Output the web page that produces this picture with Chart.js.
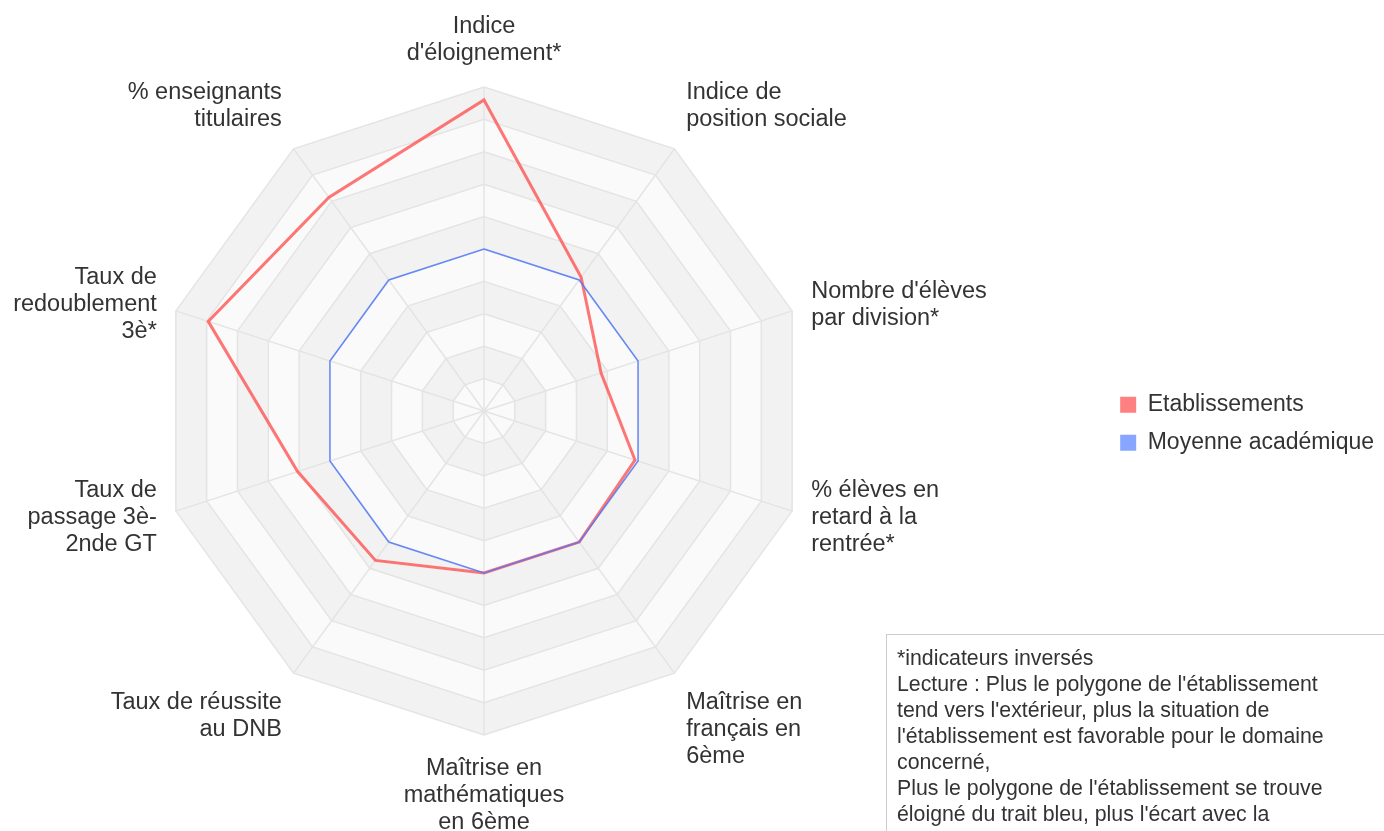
<!DOCTYPE html>
<html lang="fr">
<head>
<meta charset="utf-8">
<title>Radar établissement</title>
<script src="https://cdn.jsdelivr.net/npm/chart.js@4.4.1/dist/chart.umd.min.js"></script>
<style>
  html, body { margin: 0; padding: 0; background: #fff; overflow: hidden; }
  #wrap { position: relative; width: 1384px; height: 831px; overflow: hidden; }
  /* le canevas déborde à gauche pour décaler le radar vers la gauche */
  #chart { position: absolute; left: -136px; top: 0; }
  #note {
    position: absolute; left: 886px; top: 634px; width: 600px; height: 260px;
    border: 1px solid #cccccc; box-sizing: border-box;
    padding: 10px 0 0 10px;
    font: 21.3px "Liberation Sans", Arial, sans-serif; line-height: 26px; color: #333;
    white-space: nowrap;
  }
</style>
</head>
<body>
<div id="wrap">
  <canvas id="chart" width="1520" height="831"></canvas>
  <div id="note">*indicateurs inversés<br>Lecture : Plus le polygone de l'établissement<br>tend vers l'extérieur, plus la situation de<br>l'établissement est favorable pour le domaine<br>concerné,<br>Plus le polygone de l'établissement se trouve<br>éloigné du trait bleu, plus l'écart avec la<br>moyenne académique est important.</div>
</div>
<script>
const indicateurs = [
  ['Indice', "d'éloignement*"],
  ['Indice de', 'position sociale'],
  ["Nombre d'élèves", 'par division*'],
  ['% élèves en', 'retard à la', 'rentrée*'],
  ['Maîtrise en', 'français en', '6ème'],
  ['Maîtrise en', 'mathématiques', 'en 6ème'],
  ['Taux de réussite', 'au DNB'],
  ['Taux de', 'passage 3è-', '2nde GT'],
  ['Taux de', 'redoublement', '3è*'],
  ['% enseignants', 'titulaires']
];
const etablissement = [9.6, 5.1, 3.8, 4.9, 5.0, 5.0, 5.7, 6.05, 8.95, 8.15];
const moyenneAcad = [5, 5, 5, 5, 5, 5, 5, 5, 5, 5];
const echelleMax = 10;

const bandeClaire = '#fafafa';
const bandeFoncee = '#f2f2f2';
const gris = '#e4e4e4';
const fontFamily = '"Liberation Sans", Arial, sans-serif';

// bandes grises alternées sous la grille
const bandesPlugin = {
  id: 'bandes',
  beforeDraw(chart) {
    const s = chart.scales.r;
    const ctx = chart.ctx;
    const n = chart.data.labels.length;
    ctx.save();
    for (let v = echelleMax; v >= 1; v--) {
      ctx.beginPath();
      for (let i = 0; i < n; i++) {
        const p = s.getPointPositionForValue(i, v);
        if (i === 0) ctx.moveTo(p.x, p.y); else ctx.lineTo(p.x, p.y);
      }
      ctx.closePath();
      ctx.fillStyle = v % 2 === 0 ? bandeFoncee : bandeClaire;
      ctx.fill();
    }
    ctx.restore();
  }
};

// libellés des axes, placés à partir de l'échelle
const libellesPlugin = {
  id: 'libelles',
  afterDraw(chart) {
    const s = chart.scales.r;
    const ctx = chart.ctx;
    const n = chart.data.labels.length;
    const lh = 27;
    ctx.save();
    ctx.font = '23.5px ' + fontFamily;
    ctx.fillStyle = '#333';
    ctx.textBaseline = 'middle';
    chart.data.labels.forEach((lines, i) => {
      const p = s.getPointPosition(i, s.drawingArea + 20);
      const deg = Math.round(i * 360 / n);
      ctx.textAlign = (deg === 0 || deg === 180) ? 'center' : (deg < 180 ? 'left' : 'right');
      const h = lines.length * lh;
      let top;
      if (deg <= 45 || deg >= 315) top = p.y - h;
      else if (deg >= 135 && deg <= 225) top = p.y;
      else top = p.y - h / 2;
      lines.forEach((t, k) => ctx.fillText(t, p.x, top + lh / 2 + k * lh));
    });
    ctx.restore();
  }
};

new Chart(document.getElementById('chart'), {
  type: 'radar',
  data: {
    labels: indicateurs,
    datasets: [
      {
        label: 'Etablissements',
        data: etablissement,
        borderColor: 'rgba(255, 80, 80, 0.78)',
        backgroundColor: '#ff8080',
        borderWidth: 3,
        fill: false,
        pointRadius: 0,
        order: 1
      },
      {
        label: 'Moyenne académique',
        data: moyenneAcad,
        borderColor: 'rgba(80, 120, 250, 0.85)',
        backgroundColor: '#88a6ff',
        borderWidth: 1.5,
        fill: false,
        pointRadius: 0,
        order: 0
      }
    ]
  },
  options: {
    responsive: false,
    animation: false,
    layout: { padding: { top: 87, bottom: 95, left: 0, right: 0 } },
    scales: {
      r: {
        min: 0,
        max: echelleMax,
        ticks: { display: false, stepSize: 1 },
        grid: { color: gris, lineWidth: 1.5 },
        angleLines: { color: gris, lineWidth: 1.5 },
        pointLabels: { display: false }
      }
    },
    plugins: {
      tooltip: { enabled: false },
      legend: {
        position: 'right',
        title: { display: true, text: '', padding: 5 },
        labels: {
          boxWidth: 16,
          boxHeight: 16,
          padding: 15,
          color: '#333',
          font: { family: fontFamily, size: 23 },
          sort: (a, b) => a.datasetIndex - b.datasetIndex,
          generateLabels(chart) {
            return Chart.defaults.plugins.legend.labels.generateLabels(chart).map(it => {
              it.lineWidth = 0;
              it.strokeStyle = it.fillStyle;
              return it;
            });
          }
        }
      }
    }
  },
  plugins: [bandesPlugin, libellesPlugin]
});
</script>
</body>
</html>
